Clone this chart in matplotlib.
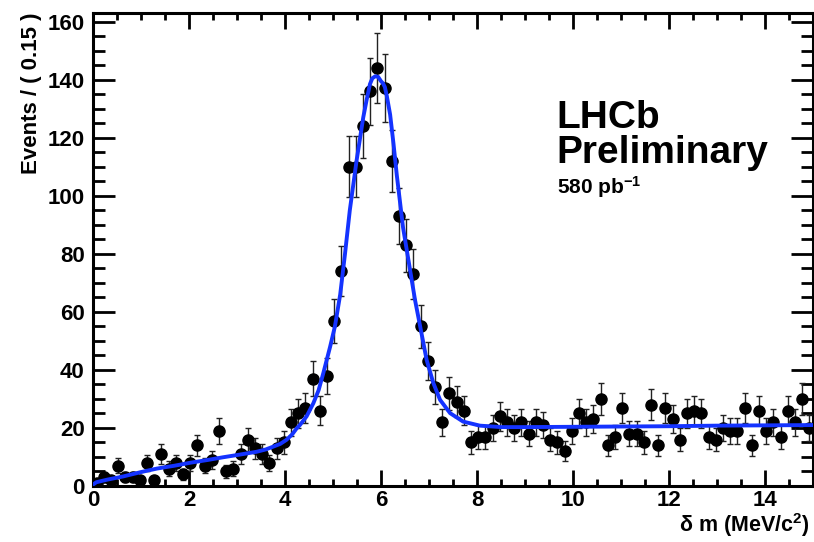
import numpy as np
import matplotlib
matplotlib.use("Agg")
import matplotlib.pyplot as plt
from matplotlib.ticker import MultipleLocator

plt.rcParams['font.family'] = ['Liberation Sans', 'DejaVu Sans']
plt.rcParams['font.weight'] = 'bold'

# ---- data ----
bin_width = 0.15
counts = [1, 3, 2, 7, 3, 3, 2, 8, 2, 11,
          6, 8, 4, 8, 14, 7, 9, 19, 5, 6,
          11, 16, 13, 11, 8, 13, 15, 22, 25, 27,
          37, 26, 38, 57, 74, 110, 110, 124, 136, 144,
          137, 112, 93, 83, 73, 55, 43, 34, 22, 32,
          29, 26, 15, 17, 17, 20, 24, 22, 20, 22,
          18, 22, 21, 16, 15, 12, 19, 25, 22, 23,
          30, 14, 17, 27, 18, 18, 15, 28, 14, 27,
          23, 16, 25, 26, 25, 17, 16, 20, 19, 19,
          27, 14, 26, 19, 22, 17, 26, 22, 30, 20]

# fit curve
fit_x = [0.0, 0.07, 0.3, 0.63, 1.0, 1.33, 1.7, 2.02, 2.4, 2.71, 3.05, 3.41, 3.6,
         3.76, 3.9, 4.03, 4.15, 4.24, 4.31, 4.45, 4.59, 4.70, 4.80, 4.94, 5.04,
         5.15, 5.25, 5.35, 5.49, 5.63, 5.70, 5.77, 5.82, 5.88, 5.94, 6.0, 6.04,
         6.08, 6.12, 6.19, 6.26, 6.33, 6.46, 6.60, 6.71, 6.81, 6.95, 7.09, 7.23,
         7.44, 7.71, 8.06, 8.5, 9.0, 10.0, 11.0, 12.0, 13.0, 14.0, 15.0]
fit_y = [0.5, 1.3, 2.2, 3.3, 4.8, 6.0, 7.0, 8.0, 9.0, 9.9, 10.8, 11.8, 12.6,
         13.6, 14.5, 15.9, 17.8, 19.8, 21.0, 24.0, 28.5, 33.0, 39.0, 48.0, 55.0,
         66.0, 80.0, 95.0, 112.0, 127.0, 133.0, 138.5, 140.5, 141.2, 141.0, 139.5, 138.8,
         137.5, 134.5, 128.0, 118.0, 107.0, 89.0, 75.0, 64.0, 55.5, 43.5, 35.5, 29.7,
         25.1, 22.2, 20.8, 20.3, 20.3, 20.4, 20.5, 20.6, 20.8, 20.9, 21.0]

x_ticks = [0, 2, 4, 6, 8, 10, 12, 14]
y_ticks = [0, 20, 40, 60, 80, 100, 120, 140, 160]

counts = np.array(counts, dtype=float)
centers = (np.arange(len(counts)) + 0.5) * bin_width
errs = np.sqrt(counts)

fig = plt.figure(figsize=(8.14, 5.42), dpi=100)
ax = fig.add_axes([93/814, 1 - 486/542, 720/814, (486 - 13)/542])

ax.errorbar(centers, counts, yerr=errs, fmt='o', color='black', ms=8,
            ecolor='#222222', elinewidth=1.0, capsize=2.5, capthick=1.0, zorder=3)
ax.plot(fit_x, fit_y, color='#1433ff', lw=2.8, zorder=4)

ax.set_xlim(0, 15)
ax.set_ylim(0, 163)
ax.set_xticks(x_ticks)
ax.set_yticks(y_ticks)
ax.xaxis.set_minor_locator(MultipleLocator(0.5))
ax.yaxis.set_minor_locator(MultipleLocator(5))
for s in ax.spines.values():
    s.set_linewidth(2.2)
ax.tick_params(axis='both', which='both', direction='in', top=True, right=True, width=2.0)
ax.tick_params(axis='x', which='major', length=11.5, labelsize=16, pad=3)
ax.tick_params(axis='x', which='minor', length=5)
ax.tick_params(axis='y', which='major', length=16, labelsize=16, pad=6)
ax.tick_params(axis='y', which='minor', length=8.5)
for lab in ax.get_xticklabels() + ax.get_yticklabels():
    lab.set_fontweight('bold')

ax.set_ylabel('Events / ( 0.15 )', fontsize=16, fontweight='bold', loc='top', labelpad=4)
fig.text(810/814, 1 - 525/542, r'$\mathregular{\delta}$ m (MeV/c$\mathregular{^2}$)',
         fontsize=15.5, fontweight='bold', ha='right', va='center')

fig.text(556/814, 1 - 128/542, 'LHCb', fontsize=28, fontweight='bold', ha='left', va='baseline')
fig.text(556/814, 1 - 163/542, 'Preliminary', fontsize=28, fontweight='bold', ha='left', va='baseline')
fig.text(557/814, 1 - 194/542, r'580 pb$\mathregular{^{-1}}$', fontsize=15, fontweight='bold',
         ha='left', va='baseline')

fig.savefig('out.png', dpi=100)
